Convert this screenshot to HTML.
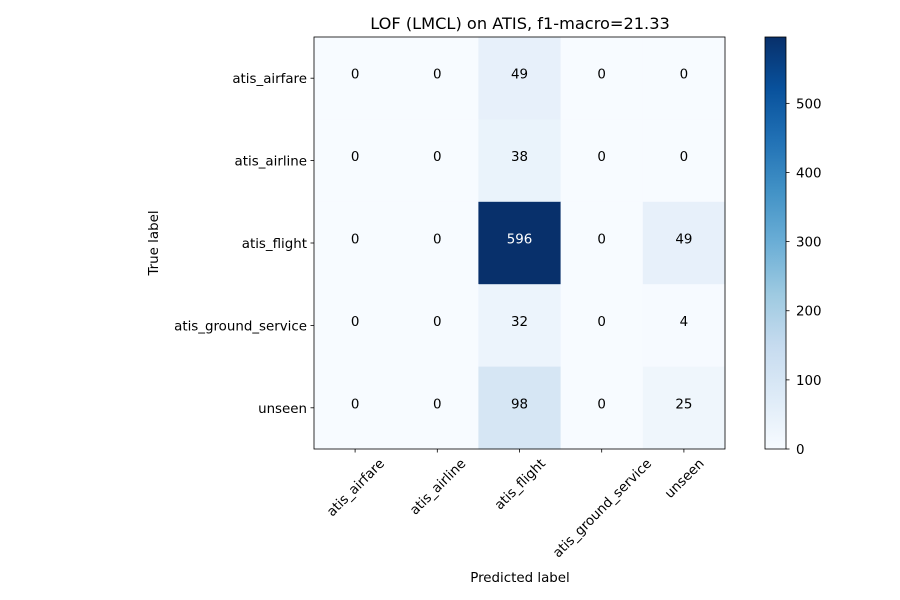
<!DOCTYPE html>
<html><head><meta charset="utf-8">
<style>
html,body{margin:0;padding:0;background:#fff;}
svg{display:block;font-family:"DejaVu Sans","Liberation Sans",sans-serif;}
</style></head>
<body>
<svg id="chart" width="900" height="600" viewBox="0 0 900 600">
<rect width="900" height="600" fill="#fff"/>
<text x="520" y="29" text-anchor="middle" font-size="16.2">LOF (LMCL) on ATIS, f1-macro=21.33</text>
<g id="cells"></g>
<g id="xticks"></g>
<g id="yticks"></g>
<rect x="314" y="37" width="411" height="412" fill="none" stroke="#000" stroke-width="0.8"/>
<text x="520" y="582" text-anchor="middle" font-size="13.4">Predicted label</text>
<text transform="translate(158,243) rotate(-90)" text-anchor="middle" font-size="13.4">True label</text>
<defs><linearGradient id="cbgrad" x1="0" y1="1" x2="0" y2="0" gradientUnits="objectBoundingBox"></linearGradient></defs>
<rect x="765" y="37" width="21" height="412" fill="url(#cbgrad)"/>
<rect x="765" y="37" width="21" height="412" fill="none" stroke="#000" stroke-width="0.8"/>
<g id="cbticks"></g>
</svg>
<script>
const categories = ["atis_airfare","atis_airline","atis_flight","atis_ground_service","unseen"];
const row0 = [0,0,49,0,0];
const row1 = [0,0,38,0,0];
const row2 = [0,0,596,0,49];
const row3 = [0,0,32,0,4];
const row4 = [0,0,98,0,25];
const matrix = [row0,row1,row2,row3,row4];
const cbTicks = [0,100,200,300,400,500];

const NS="http://www.w3.org/2000/svg";
const X0=314,Y0=37,W=411,H=412,n=categories.length;
const cw=W/n, ch=H/n;
const FS=13.4;
let vmax=0; matrix.forEach(r=>r.forEach(v=>{if(v>vmax)vmax=v;}));
const vmin=0;
const stops=["#f7fbff","#deebf7","#c6dbef","#9ecae1","#6baed6","#4292c6","#2171b5","#08519c","#08306b"];
function hex(h){return [1,3,5].map(i=>parseInt(h.substr(i,2),16));}
function cmap(t){t=Math.max(0,Math.min(1,t));const p=t*8;const i=Math.min(7,Math.floor(p));const f=p-i;const a=hex(stops[i]),b=hex(stops[i+1]);return "rgb("+a.map((c,k)=>Math.round(c+(b[k]-c)*f)).join(",")+")";}
function xs(j){return X0+cw*j;}
function ys(i){return Y0+ch*i;}
function cy(v){return Y0+H-(v-vmin)/(vmax-vmin)*H;}
function mk(tag,attrs,parent){const e=document.createElementNS(NS,tag);for(const k in attrs)e.setAttribute(k,attrs[k]);parent.appendChild(e);return e;}

const cells=document.getElementById('cells');
matrix.forEach((r,i)=>r.forEach((v,j)=>{
  const rc=mk('rect',{x:xs(j),y:ys(i),width:cw+0.5,height:ch+0.5,fill:cmap((v-vmin)/(vmax-vmin))},cells);
  
  
  const t=mk('text',{x:xs(j)+cw/2,y:ys(i)+ch/2+0.5,'text-anchor':'middle','font-size':FS,fill:v>vmax/2?'#fff':'#000'},cells);
  t.textContent=v;
  
  
}));

const xt=document.getElementById('xticks'), yt=document.getElementById('yticks');
categories.forEach((c,k)=>{
  const x=xs(k)+cw/2;
  mk('line',{x1:x,x2:x,y1:Y0+H,y2:Y0+H+3.5,stroke:'#000','stroke-width':0.8},xt);
  const t=mk('text',{'font-size':FS,'text-anchor':'middle'},xt);
  t.textContent=c;
  
  
  const w=t.getComputedTextLength(), h=FS;
  const cyy=Y0+H+7+(w+h)*Math.SQRT1_2/2;
  t.setAttribute('transform','translate('+x+','+cyy+') rotate(-45)');
  t.setAttribute('y',5);
  const y=ys(k)+ch/2;
  mk('line',{x1:X0-3.5,x2:X0,y1:y,y2:y,stroke:'#000','stroke-width':0.8},yt);
  const t2=mk('text',{x:X0-7,y:y+5,'font-size':FS,'text-anchor':'end'},yt);
  t2.textContent=c;
  
  
});

const grad=document.getElementById('cbgrad');
for(let s=0;s<=8;s++){mk('stop',{offset:s/8,'stop-color':stops[s]},grad);}
const cb=document.getElementById('cbticks');
cbTicks.forEach(v=>{
  const y=cy(v);
  mk('line',{x1:786,x2:789.5,y1:y,y2:y,stroke:'#000','stroke-width':0.8},cb);
  const t=mk('text',{x:796,y:y+5,'font-size':FS},cb);
  t.textContent=v;
  
  
});
</script>
</body></html>
